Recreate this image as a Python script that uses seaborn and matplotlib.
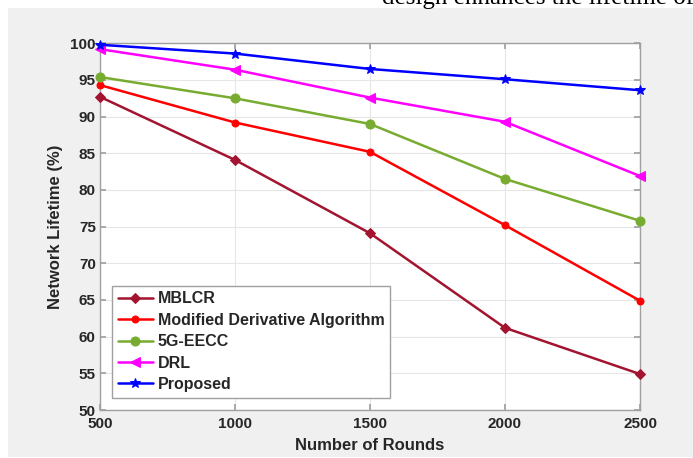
import matplotlib
matplotlib.use("Agg")
import matplotlib.pyplot as plt
import seaborn as sns
import pandas as pd
from matplotlib.patches import Rectangle

rounds = [500, 1000, 1500, 2000, 2500]
mblcr = [92.7, 84.1, 74.1, 61.2, 54.9]
modified = [94.3, 89.2, 85.2, 75.2, 64.9]
eecc = [95.4, 92.5, 89.0, 81.5, 75.8]
drl = [99.2, 96.4, 92.6, 89.3, 81.9]
proposed = [99.8, 98.6, 96.5, 95.1, 93.6]

names = ["MBLCR", "Modified Derivative Algorithm", "5G-EECC", "DRL", "Proposed"]
series = [mblcr, modified, eecc, drl, proposed]
colors = ["#A2142F", "#FF0000", "#77AC30", "#FF00FF", "#0000FF"]
markers = ["D", "o", "o", "<", "*"]
msizes = [5, 5, 6.5, 6.5, 7]

yticks = [50, 55, 60, 65, 70, 75, 80, 85, 90, 95, 100]

sns.set_theme(style="white")
plt.rcParams['font.family'] = ['Liberation Sans', 'DejaVu Sans']

fig = plt.figure(figsize=(6.93, 4.58), dpi=100)
fig.patch.set_facecolor("white")
bg = Rectangle((8 / 693, 1 / 458), 1 - 8 / 693, 1 - 9 / 458,
               transform=fig.transFigure, facecolor="#F0F0F0",
               edgecolor="none", zorder=-5)
fig.patches.append(bg)
fig.text(382 / 693, 1 - 4 / 458, "design enhances the lifetime of",
         fontfamily="Liberation Serif", fontsize=18, va="baseline", ha="left",
         color="black")

ax = fig.add_axes([100 / 693, 1 - 410 / 458, 540 / 693, (410 - 43.3) / 458])
ax.set_zorder(2)
ax.set_facecolor("white")

for name, vals, c, m, ms in zip(names, series, colors, markers, msizes):
    df = pd.DataFrame({"x": rounds, "y": vals})
    sns.lineplot(data=df, x="x", y="y", ax=ax, color=c, marker=m,
                 markersize=ms, markeredgecolor=c, markerfacecolor=c,
                 linewidth=1.8, label=name, clip_on=False, zorder=3)

ax.set_xlim(500, 2500)
ax.set_ylim(50, 100)
ax.set_xticks(rounds)
ax.set_yticks(yticks)
ax.grid(True, color="#E6E6E6", linewidth=0.8)
for s in ax.spines.values():
    s.set_visible(True)
    s.set_color("#A0A0A0")
    s.set_linewidth(1.0)
ax.tick_params(direction="in", length=4, color="#A0A0A0", labelsize=11,
               labelcolor="#262626", top=True, right=True, bottom=True, left=True,
               labeltop=False, labelright=False)
ax.tick_params(axis="x", pad=5)
ax.tick_params(axis="y", pad=3)
for lab in ax.get_xticklabels() + ax.get_yticklabels():
    lab.set_fontweight("bold")
ax.set_xlabel("Number of Rounds", fontsize=12, fontweight="bold", color="#262626", labelpad=5)
ax.set_ylabel("Network Lifetime (%)", fontsize=12, fontweight="bold", color="#262626", labelpad=5)

leg = ax.legend(loc="lower left", bbox_to_anchor=(0.008, 0.012), frameon=True,
                fancybox=False, edgecolor="#A0A0A0", framealpha=1,
                prop={"weight": "bold", "size": 11.5}, handlelength=2.2,
                handletextpad=0.3, borderpad=0.35, labelspacing=0.4)
leg.get_frame().set_linewidth(1.0)

fig.savefig("out.png", dpi=100)
